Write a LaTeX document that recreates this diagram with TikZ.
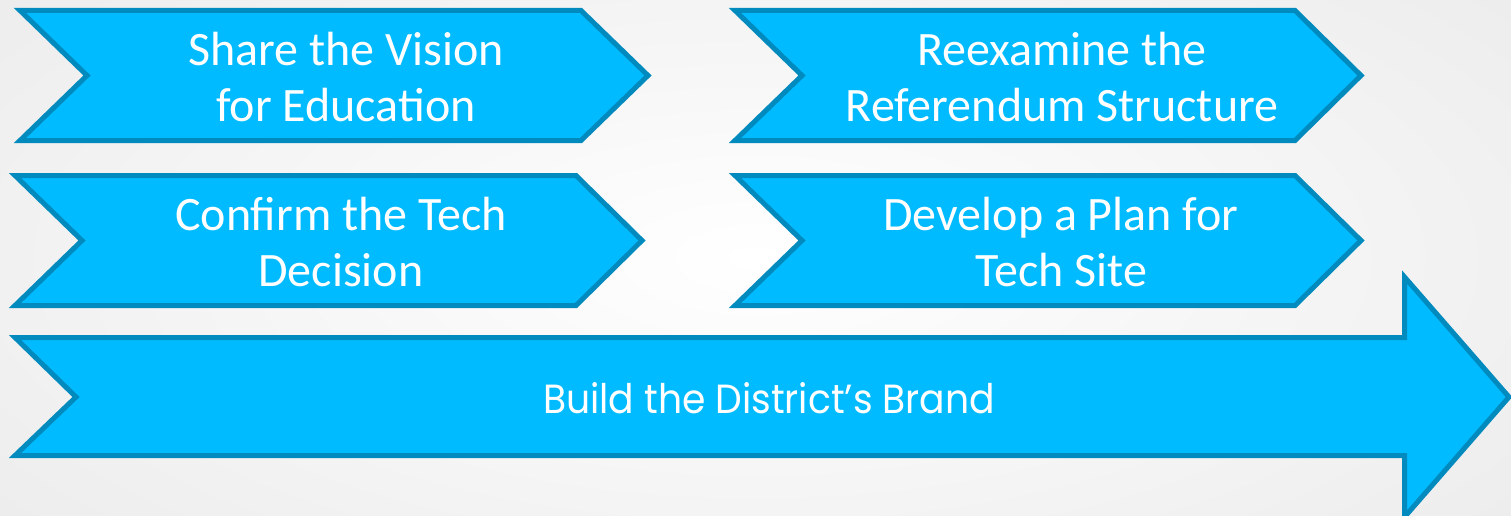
\documentclass[tikz,border=0pt]{standalone}
\usepackage{fontspec}
\setmainfont{Carlito}
\newfontfamily\brandfont{Poppins}
\usepackage{tikz}
\usetikzlibrary{shadings}

\definecolor{chevfill}{RGB}{0,187,255}
\definecolor{chevline}{RGB}{0,138,190}

\begin{document}
\begin{tikzpicture}[x=1pt,y=-1pt,
    chev/.style={draw=chevline,fill=chevfill,line width=5pt,miter limit=10},
    chevtext/.style={text=white,align=center,font=\fontsize{48}{56}\selectfont}]
  \useasboundingbox (0,0) rectangle (1511,516);
  \shade[inner color=white,outer color=black!7] (-200,-150) rectangle (1711,666);
  \clip (0,0) rectangle (1511,516);

  % chevrons
  \draw[chev] (20,10.5) -- (581,10.5) -- (648,75.5) -- (581,140.5) -- (20,140.5) -- (87,75.5) -- cycle;
  \draw[chev] (735,10.5) -- (1295,10.5) -- (1361,75.5) -- (1295,140.5) -- (735,140.5) -- (802,75.5) -- cycle;
  \draw[chev] (15,175.5) -- (576,175.5) -- (642,240.5) -- (576,305.5) -- (15,305.5) -- (82,240.5) -- cycle;
  \draw[chev] (735,175.5) -- (1295,175.5) -- (1361,240.5) -- (1295,305.5) -- (735,305.5) -- (802,240.5) -- cycle;

  % long arrow
  \draw[chev] (15,337.5) -- (1404.5,337.5) -- (1404.5,277) -- (1509,397) -- (1404.5,517)
     -- (1404.5,455.5) -- (15,455.5) -- (76,397) -- cycle;

  \draw (346,77) node[chevtext] (share) {Share the Vision\\for Education};
  \draw (1062,77) node[chevtext] (reexamine) {Reexamine the\\Referendum Structure};
  \draw (341,242) node[chevtext] (confirm) {Confirm the Tech\\Decision};
  \draw (1061,242) node[chevtext] (develop) {Develop a Plan for\\Tech Site};
  \draw (769,398) node[text=white] (brand) {\resizebox{452pt}{31pt}{\brandfont Build the District’s Brand}};
\end{tikzpicture}
\end{document}
